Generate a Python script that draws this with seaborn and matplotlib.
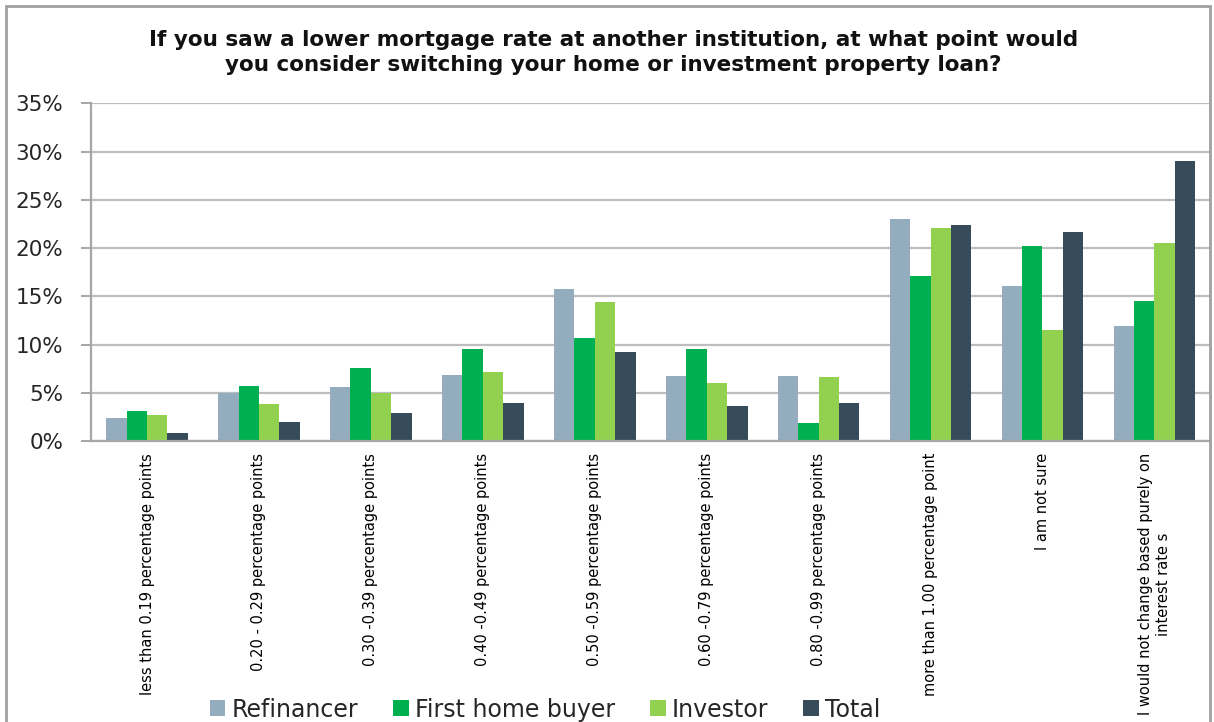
import matplotlib
matplotlib.use("Agg")
import matplotlib.pyplot as plt
import seaborn as sns
import pandas as pd
from matplotlib.patches import Patch, Rectangle
from matplotlib.ticker import FuncFormatter, MultipleLocator

categories = [
    "less than 0.19 percentage points",
    "0.20 - 0.29 percentage points",
    "0.30 -0.39 percentage points",
    "0.40 -0.49 percentage points",
    "0.50 -0.59 percentage points",
    "0.60 -0.79 percentage points",
    "0.80 -0.99 percentage points",
    "more than 1.00 percentage point",
    "I am not sure",
    "I would not change based purely on\ninterest rate s",
]
series = ["Refinancer", "First home buyer", "Investor", "Total"]
refinancer = [2.4, 5.0, 5.6, 6.8, 15.8, 6.7, 6.7, 23.0, 16.1, 11.9]
first_home_buyer = [3.1, 5.7, 7.6, 9.5, 10.7, 9.5, 1.9, 17.1, 20.2, 14.5]
investor = [2.7, 3.8, 5.0, 7.2, 14.4, 6.0, 6.6, 22.1, 11.5, 20.5]
total = [0.8, 2.0, 2.9, 4.0, 9.2, 3.6, 4.0, 22.4, 21.7, 29.0]
colors = ["#93ACBE", "#00B050", "#92D050", "#374C5A"]

title = ("If you saw a lower mortgage rate at another institution, at what point would\n"
         "you consider switching your home or investment property loan?")

rows = []
for s, vals in zip(series, [refinancer, first_home_buyer, investor, total]):
    for c, v in zip(categories, vals):
        rows.append({"category": c, "series": s, "value": v})
df = pd.DataFrame(rows)

sns.set_style("white")
plt.rcParams["font.family"] = ["DejaVu Sans"]

fig = plt.figure(figsize=(12.14, 7.22), dpi=100)
ax = fig.add_axes([0.075, 0.389, 0.922, 0.468])

sns.barplot(data=df, x="category", y="value", hue="series", order=categories,
            hue_order=series, palette=colors, width=0.73, saturation=1,
            edgecolor="none", legend=False, ax=ax, errorbar=None)

ax.set_ylim(0, 35)
ax.set_xlim(-0.5, len(categories) - 0.5)
ax.yaxis.set_major_locator(MultipleLocator(5))
ax.yaxis.set_major_formatter(FuncFormatter(lambda v, p: f"{int(v)}%"))
ax.grid(axis="y", color="#BEBEBE", linewidth=1.6)
ax.set_axisbelow(True)
ax.set_xlabel("")
ax.set_ylabel("")

for s in ["top", "right"]:
    ax.spines[s].set_visible(False)
for s in ["left", "bottom"]:
    ax.spines[s].set_color("#A6A6A6")
    ax.spines[s].set_linewidth(1.6)

ax.tick_params(axis="y", left=True, length=7, width=1.4, color="#A6A6A6",
               labelsize=15.5, labelcolor="#262626", pad=13)
ax.set_xticks(range(len(categories)))
ax.set_xticklabels(categories, rotation=90, ha="center", va="top",
                   fontsize=10.5, color="#000000", multialignment="center")
ax.tick_params(axis="x", which="major", length=0, pad=8.5)
ax.set_xticks([i + 0.5 for i in range(len(categories) - 1)], minor=True)
ax.tick_params(axis="x", which="minor", length=7, width=1.4, color="#A6A6A6")

fig.suptitle(title, x=0.505, y=0.958, fontsize=15.5, fontweight="bold",
             color="#111111", linespacing=1.28)

handles = [Patch(facecolor=c, edgecolor="none") for c in colors]
fig.legend(handles, series, loc="lower center", bbox_to_anchor=(0.449, -0.006),
           ncol=4, frameon=False, fontsize=17, handlelength=0.65,
           handleheight=0.65, handletextpad=0.25, columnspacing=1.5,
           borderpad=0.2, borderaxespad=0)

fig.patches.append(Rectangle((0.005, -0.02), 0.992, 1.012, transform=fig.transFigure,
                             fill=False, edgecolor="#A0A0A0", linewidth=2.0))

fig.savefig("out.png", dpi=100)
